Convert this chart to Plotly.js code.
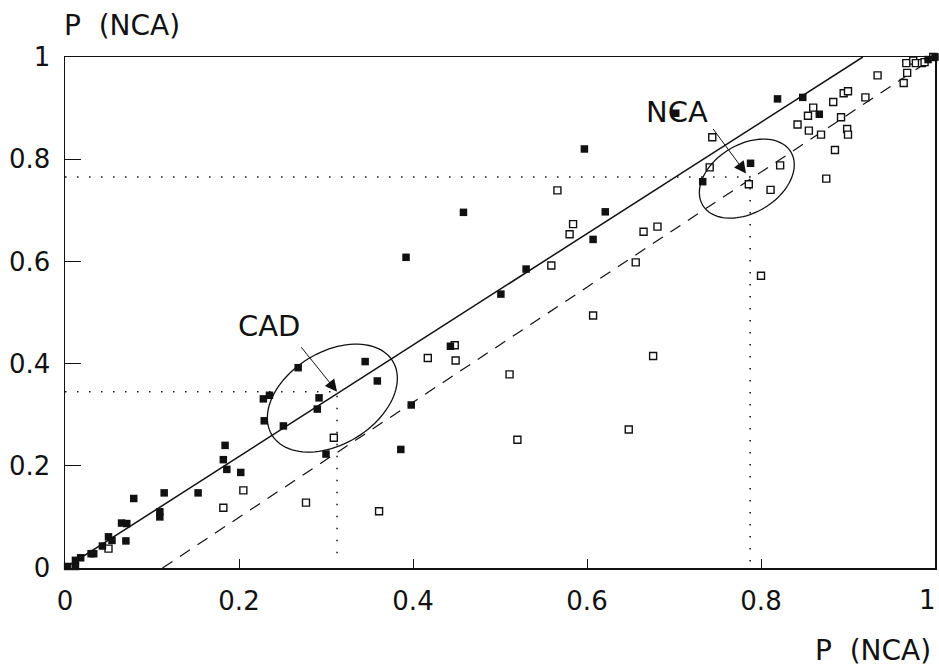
<!DOCTYPE html>
<html>
<head>
<meta charset="utf-8">
<script src="https://cdn.plot.ly/plotly-3.0.1.min.js"></script>
<style>html,body{margin:0;padding:0;background:#fff;}#chart{width:939px;height:666px;}</style>
</head>
<body>
<div id="chart"></div>
<script>
// Filled squares (CAD group)
var filledX = [0.003,0.012,0.012,0.018,0.030,0.033,0.043,0.050,0.054,0.070,0.065,0.071,0.079,0.109,0.109,0.114,0.153,0.182,0.184,0.186,0.202,0.228,0.229,0.235,0.251,0.268,0.290,0.292,0.300,0.345,0.359,0.386,0.392,0.398,0.443,0.458,0.501,0.530,0.597,0.607,0.621,0.702,0.733,0.788,0.819,0.848,0.867,0.992,1.000];
var filledY = [0.003,0.003,0.015,0.020,0.028,0.028,0.043,0.061,0.054,0.053,0.088,0.087,0.136,0.110,0.100,0.147,0.147,0.212,0.240,0.193,0.187,0.331,0.288,0.338,0.278,0.392,0.311,0.333,0.223,0.404,0.366,0.232,0.608,0.319,0.434,0.696,0.536,0.585,0.820,0.643,0.697,0.890,0.756,0.792,0.918,0.921,0.888,0.995,1.000];
// Open squares (NCA group)
var openX = [0.050,0.182,0.205,0.277,0.309,0.361,0.417,0.448,0.449,0.511,0.520,0.559,0.566,0.580,0.584,0.607,0.648,0.656,0.665,0.676,0.681,0.741,0.744,0.786,0.800,0.811,0.822,0.842,0.854,0.855,0.860,0.869,0.875,0.883,0.885,0.892,0.895,0.899,0.900,0.900,0.920,0.934,0.964,0.967,0.968,0.975,0.978,0.985,0.988,0.998];
var openY = [0.038,0.118,0.152,0.128,0.255,0.111,0.411,0.436,0.406,0.379,0.251,0.592,0.739,0.653,0.673,0.494,0.271,0.598,0.658,0.415,0.668,0.784,0.843,0.751,0.572,0.740,0.788,0.868,0.885,0.856,0.901,0.848,0.762,0.912,0.818,0.882,0.929,0.859,0.933,0.848,0.921,0.964,0.949,0.988,0.969,0.993,0.988,0.988,0.990,1.000];
// Reference lines
var solidX = [0, 0.917];
var solidY = [0, 1];
var dashX = [0.112, 1];
var dashY = [0, 1];
var dotNcaX = [0, 0.7875, 0.7875];
var dotNcaY = [0.765, 0.765, 0];
var dotCadX = [0, 0.3127, 0.3127];
var dotCadY = [0.345, 0.345, 0.025];
// Tick labels
var tickVals = [0, 0.2, 0.4, 0.6, 0.8, 1];
var tickText = ['0', '0.2', '0.4', '0.6', '0.8', '1'];

var W = 939, H = 666;
var M = {l: 65, r: 4, t: 57, b: 98, pad: 0};
var pxX = (W - M.l - M.r), pxY = (H - M.t - M.b);

function ellipsePath(cx, cy, a, b, deg) {
  var th = deg * Math.PI / 180, s = Math.sin(th), c = Math.cos(th);
  var p = '';
  for (var i = 0; i <= 96; i++) {
    var t = 2 * Math.PI * i / 96;
    var dx = a * c * Math.cos(t) - b * s * Math.sin(t);
    var dy = a * s * Math.cos(t) + b * c * Math.sin(t);
    p += (i === 0 ? 'M' : 'L') + (cx + dx / pxX).toFixed(5) + ',' + (cy + dy / pxY).toFixed(5);
  }
  return p + 'Z';
}

// x tick text: last label drawn right-aligned at the frame edge so it is not cut off
var xTickText = tickText.slice(0, tickText.length - 1).concat(['']);
var lastXLabel = tickText[tickText.length - 1];

var ink = '#111';
var traces = [
  {x: solidX, y: solidY, mode: 'lines', line: {color: ink, width: 1.5}, hoverinfo: 'skip'},
  {x: dashX, y: dashY, mode: 'lines', line: {color: ink, width: 1.2, dash: '12px,9px'}, hoverinfo: 'skip'},
  {x: dotNcaX, y: dotNcaY, mode: 'lines', line: {color: ink, width: 1.5, dash: '1.5px,10.5px'}, hoverinfo: 'skip'},
  {x: dotCadX, y: dotCadY, mode: 'lines', line: {color: ink, width: 1.5, dash: '1.5px,10.5px'}, hoverinfo: 'skip'},
  {x: openX, y: openY, mode: 'markers', cliponaxis: false,
   marker: {symbol: 'square', size: 7, color: '#fff', line: {color: ink, width: 1.4}}},
  {x: filledX, y: filledY, mode: 'markers', cliponaxis: false,
   marker: {symbol: 'square', size: 7.5, color: ink, line: {color: ink, width: 0}}}
];

var tickFont = {family: 'DejaVu Sans', size: 26, color: ink};
var layout = {
  width: W, height: H, margin: M, showlegend: false,
  paper_bgcolor: '#fff', plot_bgcolor: '#fff',
  font: {family: 'DejaVu Sans', color: ink},
  xaxis: {range: [0, 1], tickvals: tickVals, ticktext: xTickText, showgrid: false, zeroline: false,
          showline: true, mirror: true, linecolor: ink, linewidth: 1.5,
          ticks: 'inside', ticklen: 9, tickcolor: ink, tickwidth: 1,
          tickfont: tickFont, ticklabelstandoff: 9},
  yaxis: {range: [0, 1], tickvals: tickVals, ticktext: tickText, showgrid: false, zeroline: false,
          showline: true, mirror: true, linecolor: ink, linewidth: 1.5,
          ticks: 'inside', ticklen: 16, tickcolor: ink, tickwidth: 1,
          tickfont: tickFont, ticklabelstandoff: 8, ticklabeloverflow: 'allow'},
  shapes: [
    {type: 'path', xref: 'x', yref: 'y', path: ellipsePath(0.3073, 0.3325, 70.8, 46.1, 31.5), line: {color: ink, width: 1.3}},
    {type: 'path', xref: 'x', yref: 'y', path: ellipsePath(0.7837, 0.762, 51.5, 34.1, 31.2), line: {color: ink, width: 1.3}}
  ],
  annotations: [
    {xref: 'paper', yref: 'paper', x: 1, y: -0.062, xanchor: 'right', yanchor: 'middle', xshift: 3, showarrow: false,
     text: lastXLabel, font: tickFont},
    {xref: 'paper', yref: 'paper', x: -0.003, y: 1.062, xanchor: 'left', yanchor: 'middle', showarrow: false,
     text: 'P  (NCA)', font: {family: 'DejaVu Sans', size: 28, color: ink}},
    {xref: 'paper', yref: 'paper', x: 0.998, y: -0.161, xanchor: 'right', yanchor: 'middle', showarrow: false,
     text: 'P  (NCA)', font: {family: 'DejaVu Sans', size: 28, color: ink}},
    {xref: 'x', yref: 'y', x: 0.235, y: 0.4735, showarrow: false, text: 'CAD',
     font: {family: 'DejaVu Sans', size: 29, color: ink}},
    {xref: 'x', yref: 'y', x: 0.7036, y: 0.8927, showarrow: false, text: 'NCA',
     font: {family: 'DejaVu Sans', size: 29, color: ink}},
    {xref: 'x', yref: 'y', x: 0.3127, y: 0.345, ax: -37, ay: -46, text: '', showarrow: true,
     arrowhead: 2, arrowsize: 2.4, arrowwidth: 1, arrowcolor: ink},
    {xref: 'x', yref: 'y', x: 0.7828, y: 0.772, ax: -34, ay: -46, text: '', showarrow: true,
     arrowhead: 2, arrowsize: 2.4, arrowwidth: 1, arrowcolor: ink}
  ]
};

Plotly.newPlot('chart', traces, layout, {staticPlot: true, displayModeBar: false});
</script>
</body>
</html>
